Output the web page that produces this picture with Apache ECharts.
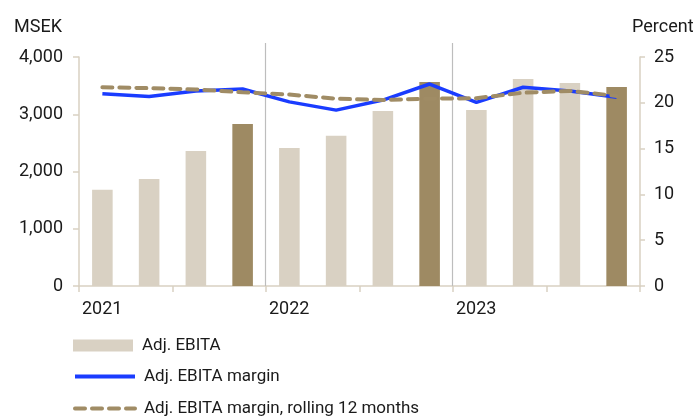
<!DOCTYPE html>
<html>
<head>
<meta charset="utf-8">
<script src="https://cdn.jsdelivr.net/npm/echarts@6/dist/echarts.min.js"></script>
<style>
html,body{margin:0;padding:0;background:#fff;}
#chart{width:693px;height:418px;}
</style>
</head>
<body>
<div id="chart"></div>
<script>
const quarters = ['Q1 2021','Q2 2021','Q3 2021','Q4 2021','Q1 2022','Q2 2022','Q3 2022','Q4 2022','Q1 2023','Q2 2023','Q3 2023','Q4 2023'];
const adjEbita = [1680, 1870, 2360, 2830, 2410, 2625, 3055, 3565, 3075, 3615, 3545, 3475];
const margin = [21.0, 20.7, 21.3, 21.5, 20.1, 19.2, 20.3, 22.05, 20.05, 21.7, 21.3, 20.6];
const rolling = [21.7, 21.6, 21.45, 21.15, 20.9, 20.45, 20.3, 20.45, 20.5, 21.1, 21.3, 20.75];
const yearLabels = ['2021', '2022', '2023'];
const yearStarts = [4, 8];
const seriesNames = ['Adj. EBITA', 'Adj. EBITA margin', 'Adj. EBITA margin, rolling 12 months'];

const FONT = 'Roboto';
const TXT = '#1a1a1a';
const AXIS = '#d9d1c2';
const LIGHT = '#d9d1c3';
const DARK = '#9e8a63';
const BLUE = '#1a3cff';
const DASH = '#a08c65';

const legendTops = [337, 368, 400];
const legends = seriesNames.map((n, i) => ({
  orient: 'vertical', left: 73, top: legendTops[i], itemWidth: 60, itemHeight: 12, padding: 0,
  textStyle: {fontSize: 17, color: TXT, fontFamily: FONT, padding: [0, 0, 0, 4]},
  lineStyle: {width: 4},
  data: [i === 0 ? {name: n, icon: 'rect'} : {name: n, itemStyle: {opacity: 0}}]
}));

const chart = echarts.init(document.getElementById('chart'), null, {renderer: 'canvas'});
chart.setOption({
  animation: false,
  textStyle: {fontFamily: FONT},
  grid: {left: 79, right: 53, top: 57, bottom: 132},
  graphic: [
    {type: 'text', left: 14, top: 18, style: {text: 'MSEK', font: '18px ' + FONT, fill: TXT}},
    {type: 'text', left: 632, top: 18, style: {text: 'Percent', font: '18px ' + FONT, fill: TXT}}
  ],
  legend: legends,
  xAxis: [
    {
      type: 'category', data: quarters, boundaryGap: true,
      axisLine: {lineStyle: {color: AXIS, width: 1.5}},
      axisTick: {show: true, length: 6, lineStyle: {color: AXIS, width: 1.5}},
      axisLabel: {show: false}, splitLine: {show: false}
    },
    {
      type: 'value', min: 0, max: 12, interval: 4, position: 'bottom',
      axisLine: {show: false}, axisTick: {show: false}, splitLine: {show: false},
      axisLabel: {
        show: true, margin: 14, align: 'left', padding: [0, 0, 0, 3],
        fontSize: 18, color: TXT, fontFamily: FONT,
        formatter: v => yearLabels[v / 4] || ''
      }
    }
  ],
  yAxis: [
    {
      type: 'value', min: 0, max: 4000, interval: 1000,
      axisLine: {show: true, lineStyle: {color: AXIS, width: 1.5}},
      axisTick: {show: true, length: 6, lineStyle: {color: AXIS, width: 1.5}},
      splitLine: {show: false},
      axisLabel: {margin: 16, fontSize: 18, color: TXT, fontFamily: FONT,
        formatter: v => v.toLocaleString('en-US')}
    },
    {
      type: 'value', min: 0, max: 25, interval: 5, position: 'right',
      axisLine: {show: true, lineStyle: {color: AXIS, width: 1.5}},
      axisTick: {show: true, length: 5, lineStyle: {color: AXIS, width: 1.5}},
      splitLine: {show: false},
      axisLabel: {margin: 14, fontSize: 18, color: TXT, fontFamily: FONT}
    }
  ],
  series: [
    {
      type: 'custom', name: 'dividers', xAxisIndex: 1, yAxisIndex: 0, clip: false, z: 1,
      data: yearStarts.map(v => [v, 0]),
      renderItem: (params, api) => {
        const p0 = api.coord([api.value(0), 0]);
        const p1 = api.coord([api.value(0), 4000]);
        const x = Math.round(p0[0]) - 0.5;
        return {type: 'line', shape: {x1: x, y1: p0[1], x2: x, y2: p1[1] - 14},
          style: {stroke: '#bdbdbd', lineWidth: 1.2}};
      }
    },
    {
      name: seriesNames[0], type: 'bar', xAxisIndex: 0, yAxisIndex: 0, barWidth: '44%', z: 2,
      itemStyle: {color: LIGHT},
      data: adjEbita.map((v, i) => ({value: v, itemStyle: {color: i % 4 === 3 ? DARK : LIGHT}}))
    },
    {
      name: seriesNames[1], type: 'line', xAxisIndex: 0, yAxisIndex: 1, z: 3,
      symbol: 'none', data: margin,
      lineStyle: {color: BLUE, width: 3.5}, itemStyle: {color: BLUE}
    },
    {
      name: seriesNames[2], type: 'line', xAxisIndex: 0, yAxisIndex: 1, z: 4,
      symbol: 'none', data: rolling,
      lineStyle: {color: DASH, width: 4, type: [10, 7], cap: 'round'}, itemStyle: {color: DASH}
    }
  ]
});
</script>
</body>
</html>
